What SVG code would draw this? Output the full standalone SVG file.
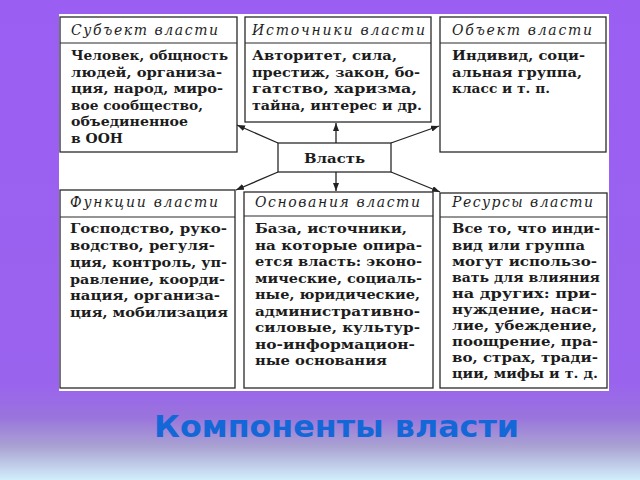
<svg xmlns="http://www.w3.org/2000/svg" width="640" height="480" viewBox="0 0 640 480">
<defs>
<linearGradient id="bg" x1="0" y1="0" x2="0" y2="1">
<stop offset="0" stop-color="#9b5ef3"/>
<stop offset="0.8" stop-color="#9a63ee"/>
<stop offset="0.87" stop-color="#9a74dc"/>
<stop offset="0.93" stop-color="#a9a2d2"/>
<stop offset="1" stop-color="#d2eefb"/>
</linearGradient>
<marker id="ah" markerUnits="userSpaceOnUse" markerWidth="8" markerHeight="6" refX="8" refY="3" orient="auto">
<path d="M0,0 L8,3 L0,6 z" fill="#222"/>
</marker>
<style>
.box{fill:#fff;stroke:#2a2a2a;stroke-width:1.3}
.div{stroke:#2a2a2a;stroke-width:1.2}
.hd{font-family:"DejaVu Serif","Liberation Serif",serif;font-style:italic;font-size:14px;fill:#1e1e1e}
.bd{font-family:"DejaVu Serif","Liberation Serif",serif;font-weight:bold;font-size:12px;fill:#1c1c1c}
.cn{stroke:#222;stroke-width:1.3;fill:none;marker-end:url(#ah)}
</style>
</defs>
<rect x="0" y="0" width="640" height="480" fill="url(#bg)"/>
<rect x="59" y="14" width="550" height="377" fill="#fff"/>

<g id="subject">
<rect class="box" x="60" y="17" width="177" height="135"/>
<line class="div" x1="60" y1="43" x2="237" y2="43"/>
<text class="hd" x="71" y="35" textLength="147" lengthAdjust="spacing">Субъект власти</text>
<text class="bd" x="71" y="60" textLength="157" lengthAdjust="spacingAndGlyphs">Человек, общность</text>
<text class="bd" x="71" y="76.5" textLength="151" lengthAdjust="spacingAndGlyphs">людей, организа-</text>
<text class="bd" x="71" y="93" textLength="152" lengthAdjust="spacingAndGlyphs">ция, народ, миро-</text>
<text class="bd" x="71" y="109.5" textLength="132" lengthAdjust="spacingAndGlyphs">вое сообщество,</text>
<text class="bd" x="71" y="126" textLength="117" lengthAdjust="spacingAndGlyphs">объединенное</text>
<text class="bd" x="71" y="142.5" textLength="52" lengthAdjust="spacingAndGlyphs">в ООН</text>
</g>

<g id="sources">
<rect class="box" x="245" y="17" width="186" height="105"/>
<line class="div" x1="245" y1="43" x2="431" y2="43"/>
<text class="hd" x="252" y="35" textLength="173" lengthAdjust="spacing">Источники власти</text>
<text class="bd" x="252" y="60" textLength="145" lengthAdjust="spacingAndGlyphs">Авторитет, сила,</text>
<text class="bd" x="252" y="76.5" textLength="168" lengthAdjust="spacingAndGlyphs">престиж, закон, бо-</text>
<text class="bd" x="252" y="93" textLength="165" lengthAdjust="spacingAndGlyphs">гатство, харизма,</text>
<text class="bd" x="252" y="109.5" textLength="170" lengthAdjust="spacingAndGlyphs">тайна, интерес и др.</text>
</g>

<g id="object">
<rect class="box" x="440" y="17" width="166" height="135"/>
<line class="div" x1="440" y1="43" x2="606" y2="43"/>
<text class="hd" x="452" y="35" textLength="140" lengthAdjust="spacing">Объект власти</text>
<text class="bd" x="452" y="60" textLength="133" lengthAdjust="spacingAndGlyphs">Индивид, соци-</text>
<text class="bd" x="452" y="76.5" textLength="130" lengthAdjust="spacingAndGlyphs">альная группа,</text>
<text class="bd" x="452" y="93" textLength="98" lengthAdjust="spacingAndGlyphs">класс и т. п.</text>
</g>

<g id="power">
<rect class="box" x="278" y="143" width="113" height="29"/>
<text x="334.5" y="163" text-anchor="middle" font-family="DejaVu Serif, Liberation Serif, serif" font-weight="bold" font-size="13.5" fill="#1c1c1c" textLength="61" lengthAdjust="spacingAndGlyphs">Власть</text>
</g>

<g id="functions">
<rect class="box" x="60" y="190" width="175" height="198"/>
<line class="div" x1="60" y1="217" x2="235" y2="217"/>
<text class="hd" x="70" y="207" textLength="148" lengthAdjust="spacing">Функции власти</text>
<text class="bd" x="70" y="233" textLength="157" lengthAdjust="spacingAndGlyphs">Господство, руко-</text>
<text class="bd" x="70" y="250" textLength="145" lengthAdjust="spacingAndGlyphs">водство, регуля-</text>
<text class="bd" x="70" y="267" textLength="157" lengthAdjust="spacingAndGlyphs">ция, контроль, уп-</text>
<text class="bd" x="70" y="283.5" textLength="155" lengthAdjust="spacingAndGlyphs">равление, коорди-</text>
<text class="bd" x="70" y="300" textLength="150" lengthAdjust="spacingAndGlyphs">нация, организа-</text>
<text class="bd" x="70" y="317" textLength="158" lengthAdjust="spacingAndGlyphs">ция, мобилизация</text>
</g>

<g id="foundations">
<rect class="box" x="244" y="192" width="189" height="196"/>
<line class="div" x1="244" y1="216" x2="433" y2="216"/>
<text class="hd" x="255" y="207" textLength="165" lengthAdjust="spacing">Основания власти</text>
<text class="bd" x="255" y="233" textLength="152" lengthAdjust="spacingAndGlyphs">База, источники,</text>
<text class="bd" x="255" y="249.5" textLength="167" lengthAdjust="spacingAndGlyphs">на которые опира-</text>
<text class="bd" x="255" y="266" textLength="167" lengthAdjust="spacingAndGlyphs">ется власть: эконо-</text>
<text class="bd" x="255" y="282.5" textLength="167" lengthAdjust="spacingAndGlyphs">мические, социаль-</text>
<text class="bd" x="255" y="299" textLength="165" lengthAdjust="spacingAndGlyphs">ные, юридические,</text>
<text class="bd" x="255" y="315.5" textLength="165" lengthAdjust="spacingAndGlyphs">административно-</text>
<text class="bd" x="255" y="332" textLength="165" lengthAdjust="spacingAndGlyphs">силовые, культур-</text>
<text class="bd" x="255" y="348.5" textLength="160" lengthAdjust="spacingAndGlyphs">но-информацион-</text>
<text class="bd" x="255" y="365" textLength="132" lengthAdjust="spacingAndGlyphs">ные основания</text>
</g>

<g id="resources">
<rect class="box" x="440" y="193" width="167" height="195"/>
<line class="div" x1="440" y1="217" x2="607" y2="217"/>
<text class="hd" x="452" y="207" textLength="141" lengthAdjust="spacing">Ресурсы власти</text>
<text class="bd" x="452" y="233" textLength="148" lengthAdjust="spacingAndGlyphs">Все то, что инди-</text>
<text class="bd" x="452" y="249.5" textLength="133" lengthAdjust="spacingAndGlyphs">вид или группа</text>
<text class="bd" x="452" y="265.5" textLength="145" lengthAdjust="spacingAndGlyphs">могут использо-</text>
<text class="bd" x="452" y="282" textLength="148" lengthAdjust="spacingAndGlyphs">вать для влияния</text>
<text class="bd" x="452" y="298" textLength="145" lengthAdjust="spacingAndGlyphs">на других: при-</text>
<text class="bd" x="452" y="313.5" textLength="146" lengthAdjust="spacingAndGlyphs">нуждение, наси-</text>
<text class="bd" x="452" y="330" textLength="145" lengthAdjust="spacingAndGlyphs">лие, убеждение,</text>
<text class="bd" x="452" y="345.5" textLength="146" lengthAdjust="spacingAndGlyphs">поощрение, пра-</text>
<text class="bd" x="452" y="362" textLength="146" lengthAdjust="spacingAndGlyphs">во, страх, тради-</text>
<text class="bd" x="452" y="377.5" textLength="146" lengthAdjust="spacingAndGlyphs">ции, мифы и т. д.</text>
</g>

<g id="connectors">
<path class="cn" d="M336 143 L336 123"/>
<path class="cn" d="M278 143 L237 125"/>
<path class="cn" d="M391 143 L439 126"/>
<path class="cn" d="M336 172 L336 191"/>
<path class="cn" d="M278 172 L236 190"/>
<path class="cn" d="M391 172 L440 192"/>
</g>

<text id="title" x="154" y="437" font-family="DejaVu Sans, Verdana, sans-serif" font-weight="bold" font-size="31" fill="#1467d6" textLength="365" lengthAdjust="spacingAndGlyphs">Компоненты власти</text>
</svg>
